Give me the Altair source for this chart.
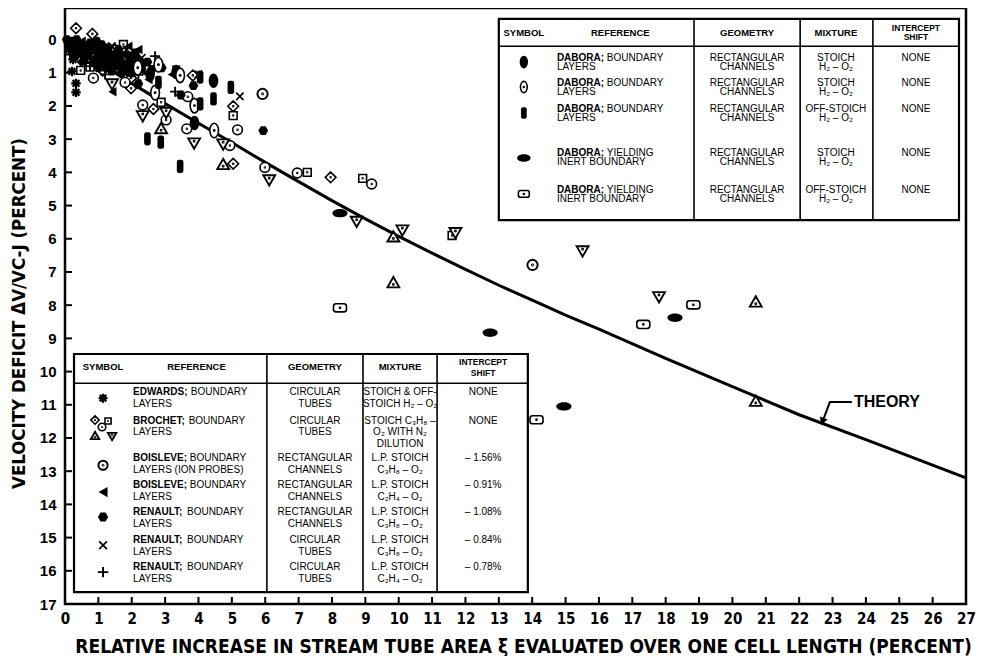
import altair as alt
import pandas as pd

# ---------------- data ----------------
theory_x = [0, 1, 2, 3, 4, 5, 6, 7, 8, 9, 10, 11, 12, 13, 14, 15, 16, 18, 20, 22, 24, 27]
theory_y = [0.0, 0.68, 1.32, 1.93, 2.52, 3.1, 3.7, 4.28, 4.85, 5.4, 5.93, 6.43, 6.92, 7.4,
            7.85, 8.3, 8.72, 9.6, 10.45, 11.3, 12.05, 13.2]

edwards_x = [0.24, 0.21, 0.33, 0.33, 0.12]
edwards_y = [0.60, 0.96, 1.32, 1.59, 0.30]

brochet_diamond_x = [0.33, 0.82, 0.54, 1.13, 1.50, 1.98, 1.98, 2.65, 3.83, 5.04, 5.04, 7.96]
brochet_diamond_y = [-0.34, -0.17, 0.68, 0.93, 0.30, 1.16, 1.47, 2.09, 1.08, 2.01, 3.74, 4.15]

brochet_circle_x = [0.85, 1.80, 2.18, 2.33, 3.03, 3.68, 3.65, 4.94, 5.17, 5.99, 6.96, 9.19, 1.25]
brochet_circle_y = [1.16, 1.29, 0.68, 1.97, 2.42, 1.72, 2.69, 3.19, 2.72, 3.85, 4.02, 4.35, 0.45]

brochet_square_x = [0.47, 0.75, 2.88, 5.04, 7.26, 8.92, 11.60, 1.75]
brochet_square_y = [0.93, 0.83, 1.89, 2.29, 4.00, 4.18, 5.90, 0.15]

brochet_up_x = [2.88, 4.74, 9.84, 9.84, 20.70, 20.70]
brochet_up_y = [2.69, 3.77, 5.95, 7.33, 7.91, 10.90]

brochet_down_x = [1.41, 2.33, 3.03, 3.87, 4.74, 6.12, 8.74, 10.11, 11.70, 15.51, 17.80]
brochet_down_y = [1.33, 2.29, 2.19, 3.11, 3.14, 4.22, 5.47, 5.73, 5.81, 6.36, 7.74]

boisleve_ion_x = [5.92, 14.01]
boisleve_ion_y = [1.64, 6.79]

boisleve_x = [0.30, 0.60, 0.80, 1.00, 1.20, 1.30, 1.50, 1.60, 1.75, 2.00, 2.30, 2.50, 3.20, 1.42,
              0.15, 0.50, 0.90, 1.35, 1.65, 1.90, 2.20]
boisleve_y = [0.35, 0.15, 0.60, 0.20, 0.30, 0.90, 0.35, 1.00, 0.45, 0.65, 0.95, 1.20, 1.05, 1.57,
              0.25, 0.05, 0.40, 0.55, 0.75, 0.20, 0.30]

renault_x = [0.10, 0.25, 0.40, 0.50, 0.65, 0.70, 0.85, 0.95, 1.05, 1.15, 1.25, 1.35, 1.45, 1.55,
             1.65, 1.80, 1.90, 2.05, 2.20, 2.47, 2.60, 3.47, 3.85, 5.94, 0.55, 1.00, 1.70, 2.90,
             0.05, 0.20, 0.35, 0.45, 0.60, 0.75, 0.85, 1.10, 1.20, 1.30, 1.40, 1.60, 1.75, 1.95,
             2.10, 2.30, 0.30, 0.95, 1.50, 2.00]
renault_y = [0.10, 0.20, 0.12, 0.30, 0.20, 0.45, 0.30, 0.55, 0.35, 0.60, 0.45, 0.70, 0.50, 0.80,
             0.60, 0.75, 0.50, 0.85, 1.33, 0.68, 0.90, 1.67, 1.39, 2.74, 0.65, 0.85, 1.00, 0.85,
             0.00, 0.05, 0.00, 0.40, 0.55, 0.10, 0.70, 0.15, 0.80, 0.25, 0.95, 0.30, 0.95, 0.65,
             0.40, 0.75, 0.50, 0.05, 0.65, 1.00]

renault_cross_x = [0.45, 0.90, 1.10, 1.40, 1.85, 2.30, 3.33, 5.24, 4.00]
renault_cross_y = [0.50, 0.10, 0.70, 0.20, 0.30, 0.55, 0.90, 1.71, 1.05]

renault_plus_x = [0.15, 0.75, 1.20, 1.60, 2.20, 3.30, 2.70]
renault_plus_y = [0.45, 0.80, 1.05, 0.40, 1.06, 1.57, 0.50]

dabora_ell_x = [1.60, 2.10, 3.33, 4.45, 3.88, 2.55, 1.20, 1.90]
dabora_ell_y = [0.40, 0.55, 0.98, 1.24, 2.51, 1.05, 0.50, 0.90]

dabora_ell_dot_x = [2.18, 3.45, 2.70, 3.88, 4.47, 2.80]
dabora_ell_dot_y = [0.85, 1.08, 1.60, 1.99, 2.74, 0.76]

dabora_rect_x = [2.80, 4.05, 4.45, 4.97, 2.47, 2.87, 3.45, 4.05]
dabora_rect_y = [1.29, 1.13, 1.79, 1.44, 2.99, 3.09, 3.82, 1.94]

dabora_yield_x = [8.24, 12.74, 18.28, 14.95]
dabora_yield_y = [5.23, 8.83, 8.38, 11.05]

dabora_yield_dot_x = [8.24, 14.13, 17.33, 18.83]
dabora_yield_dot_y = [8.08, 11.45, 8.58, 7.99]

# ---------------- legend tables (text) ----------------
top_names = ["DABORA;", "DABORA;", "DABORA;", "DABORA;", "DABORA;"]
top_ref_rest = ["BOUNDARY", "BOUNDARY", "BOUNDARY", "YIELDING", "YIELDING"]
top_ref_line2 = ["LAYERS", "LAYERS", "LAYERS", "INERT BOUNDARY", "INERT BOUNDARY"]
top_geometry = [["RECTANGULAR", "CHANNELS"]] * 5
top_mixture = [["STOICH", "H₂ – O₂"], ["STOICH", "H₂ – O₂"], ["OFF-STOICH", "H₂ – O₂"],
               ["STOICH", "H₂ – O₂"], ["OFF-STOICH", "H₂ – O₂"]]
top_shift = ["NONE"] * 5

bot_names = ["EDWARDS;", "BROCHET;", "BOISLEVE;", "BOISLEVE;", "RENAULT;", "RENAULT;", "RENAULT;"]
bot_ref_rest = ["BOUNDARY"] * 7
bot_ref_line2 = ["LAYERS", "LAYERS", "LAYERS (ION PROBES)", "LAYERS", "LAYERS", "LAYERS", "LAYERS"]
bot_geometry = [["CIRCULAR", "TUBES"], ["CIRCULAR", "TUBES"], ["RECTANGULAR", "CHANNELS"],
                ["RECTANGULAR", "CHANNELS"], ["RECTANGULAR", "CHANNELS"], ["CIRCULAR", "TUBES"],
                ["CIRCULAR", "TUBES"]]
bot_mixture = [["STOICH & OFF-", "STOICH  H₂ – O₂"], ["STOICH  C₃H₈ –", "O₂ WITH N₂", "DILUTION"],
               ["L.P. STOICH", "C₃H₈ – O₂"], ["L.P. STOICH", "C₂H₄ – O₂"],
               ["L.P. STOICH", "C₃H₈ – O₂"], ["L.P. STOICH", "C₃H₈ – O₂"], ["L.P. STOICH", "C₂H₄ – O₂"]]
bot_shift = ["NONE", "NONE", "– 1.56%", "– 0.91%", "– 1.08%", "– 0.84%", "– 0.78%"]

X_TITLE = "RELATIVE INCREASE IN STREAM TUBE AREA ξ EVALUATED OVER ONE CELL LENGTH (PERCENT)"
Y_TITLE = "VELOCITY DEFICIT ΔV/VC-J (PERCENT)"

# ---------------- layout (data units) ----------------
W, H = 901, 596
XMAX, YMIN, YMAX = 27, -0.95, 17
PXX = W / XMAX
TOP = dict(x0=13.0, x1=26.79, y0=-0.62, y1=5.44, hline=0.20, cols=[18.85, 22.03, 24.21],
           sym=13.75, ref=14.74, geo=20.44, mix=23.10, sh=25.50, hy=-0.21, iy=[-0.35, -0.08],
           rows=[0.56, 1.31, 2.09, 3.42, 4.53], gap=0.28, symy=[0.68, 1.43, 2.21, 3.57, 4.65])
BOT = dict(x0=0.27, x1=13.87, y0=9.47, y1=16.64, hline=10.35, cols=[6.05, 8.93, 11.15],
           sym=1.14, ref=2.04, geo=7.49, mix=10.04, sh=12.53, hy=9.86, iy=[9.71, 10.05],
           rows=[10.62, 11.48, 12.60, 13.42, 14.23, 15.07, 15.89], gap=0.35)

NARROW = "Liberation Sans Narrow, Arial Narrow, DejaVu Sans Condensed, Liberation Sans"
SANS = "Liberation Sans, Arial, Helvetica, sans-serif"

BOLD_W = {'A': 722, 'B': 722, 'C': 722, 'D': 722, 'E': 667, 'H': 722, 'I': 278, 'L': 611,
          'N': 722, 'O': 778, 'R': 722, 'S': 667, 'T': 611, 'U': 722, 'V': 667, 'W': 944,
          ';': 333, ' ': 278}


def name_w(s, fs=10):
    return sum(BOLD_W.get(c, 700) for c in s + " ") / 1000 * fs / PXX


# ---------------- symbol paths ----------------
def ell(rx, ry, cx=0.0, cy=0.0):
    k = 0.5523
    f = lambda v: f"{v:.3f}"
    return (f"M{f(cx)},{f(cy-ry)} C{f(cx+k*rx)},{f(cy-ry)} {f(cx+rx)},{f(cy-k*ry)} {f(cx+rx)},{f(cy)} "
            f"C{f(cx+rx)},{f(cy+k*ry)} {f(cx+k*rx)},{f(cy+ry)} {f(cx)},{f(cy+ry)} "
            f"C{f(cx-k*rx)},{f(cy+ry)} {f(cx-rx)},{f(cy+k*ry)} {f(cx-rx)},{f(cy)} "
            f"C{f(cx-rx)},{f(cy-k*ry)} {f(cx-k*rx)},{f(cy-ry)} {f(cx)},{f(cy-ry)} Z")


def rrect(w, h, r):
    return (f"M{-w+r},{-h} L{w-r},{-h} Q{w},{-h} {w},{-h+r} L{w},{h-r} Q{w},{h} {w-r},{h} "
            f"L{-w+r},{h} Q{-w},{h} {-w},{h-r} L{-w},{-h+r} Q{-w},{-h} {-w+r},{-h} Z")


def dot(cy=0.0):
    return " " + ell(0.09, 0.09, 0.0, cy)


STYLES = {
    "edwards": dict(shape="M-1,0L1,0M0,-1L0,1M-0.72,-0.72L0.72,0.72M-0.72,0.72L0.72,-0.72",
                    kind="line", sw=2.2, size=90),
    "brochet_diamond": dict(shape="M0,-1L1,0L0,1L-1,0Z" + dot(), kind="open", sw=1.6, size=115),
    "brochet_circle": dict(shape=ell(1, 1) + dot(), kind="open", sw=1.6, size=95),
    "brochet_square": dict(shape="M-0.8,-0.8L0.8,-0.8L0.8,0.8L-0.8,0.8Z" + dot(), kind="open", sw=1.6, size=95),
    "brochet_up": dict(shape="M0,-1L1,0.75L-1,0.75Z" + dot(0.25), kind="open", sw=1.9, size=140),
    "brochet_down": dict(shape="M0,1L1,-0.75L-1,-0.75Z" + dot(-0.25), kind="open", sw=1.9, size=140),
    "boisleve_ion": dict(shape=ell(1, 1) + dot(), kind="open", sw=2.0, size=105),
    "boisleve": dict(shape="triangle-left", kind="fill", sw=0, size=90),
    "renault": dict(shape="M-0.5,-0.9L0.5,-0.9L1,0L0.5,0.9L-0.5,0.9L-1,0Z", kind="fill", sw=0, size=95),
    "renault_cross": dict(shape="M-1,-1L1,1M-1,1L1,-1", kind="line", sw=1.7, size=55),
    "renault_plus": dict(shape="M-1,0L1,0M0,-1L0,1", kind="line", sw=1.9, size=100),
    "dabora_ell": dict(shape=ell(0.66, 1), kind="fill", sw=0, size=210),
    "dabora_ell_dot": dict(shape=ell(0.6, 1) + dot(), kind="open", sw=1.6, size=210),
    "dabora_rect": dict(shape=rrect(0.5, 1, 0.35), kind="fill", sw=0, size=175),
    "dabora_yield": dict(shape=ell(1, 0.55), kind="fill", sw=0, size=230),
    "dabora_yield_dot": dict(shape=rrect(1, 0.62, 0.4) + dot(), kind="open", sw=1.6, size=170),
}

POINTS = {
    "edwards": (edwards_x, edwards_y),
    "brochet_diamond": (brochet_diamond_x, brochet_diamond_y),
    "brochet_circle": (brochet_circle_x, brochet_circle_y),
    "brochet_square": (brochet_square_x, brochet_square_y),
    "brochet_up": (brochet_up_x, brochet_up_y),
    "brochet_down": (brochet_down_x, brochet_down_y),
    "boisleve_ion": (boisleve_ion_x, boisleve_ion_y),
    "boisleve": (boisleve_x, boisleve_y),
    "renault": (renault_x, renault_y),
    "renault_cross": (renault_cross_x, renault_cross_y),
    "renault_plus": (renault_plus_x, renault_plus_y),
    "dabora_ell": (dabora_ell_x, dabora_ell_y),
    "dabora_ell_dot": (dabora_ell_dot_x, dabora_ell_dot_y),
    "dabora_rect": (dabora_rect_x, dabora_rect_y),
    "dabora_yield": (dabora_yield_x, dabora_yield_y),
    "dabora_yield_dot": (dabora_yield_dot_x, dabora_yield_dot_y),
}

# legend symbol positions (data units) and their size factor
LEGEND_SYM = {
    "dabora_ell": [(TOP["sym"], TOP["symy"][0], 0.75)],
    "dabora_ell_dot": [(TOP["sym"], TOP["symy"][1], 0.6)],
    "dabora_rect": [(TOP["sym"], TOP["symy"][2], 0.75)],
    "dabora_yield": [(TOP["sym"], TOP["symy"][3], 0.8)],
    "dabora_yield_dot": [(TOP["sym"], TOP["symy"][4], 0.7)],
    "edwards": [(BOT["sym"], 10.80, 0.9)],
    "brochet_diamond": [(0.90, 11.46, 0.6)],
    "brochet_circle": [(1.11, 11.67, 0.6)],
    "brochet_square": [(1.29, 11.49, 0.6)],
    "brochet_up": [(0.90, 11.94, 0.5)],
    "brochet_down": [(1.41, 11.94, 0.5)],
    "boisleve_ion": [(BOT["sym"], 12.82, 0.8)],
    "boisleve": [(BOT["sym"], 13.63, 1.2)],
    "renault": [(BOT["sym"], 14.38, 1.1)],
    "renault_cross": [(BOT["sym"], 15.23, 1.1)],
    "renault_plus": [(BOT["sym"], 16.04, 1.1)],
}

# ---------------- encodings ----------------
xscale = alt.Scale(domain=[0, XMAX], nice=False, zero=False)
yscale = alt.Scale(domain=[YMIN, YMAX], reverse=True, nice=False, zero=False)
xaxis = alt.Axis(values=list(range(0, 28)), title=X_TITLE, labelFont=NARROW, labelFontSize=15,
                 labelPadding=7, labelFlush=False, labelOverlap=False, titleFont=NARROW,
                 titleFontSize=19, titleX=458, titleY=42, titleBaseline="middle")
yaxis = alt.Axis(values=list(range(0, 18)), title=Y_TITLE, labelFont=SANS, labelFontSize=15,
                 labelPadding=9, labelFlush=False, labelOverlap=False, titleFont=NARROW,
                 titleFontSize=18.5, titleX=-47, titleY=305, titleAngle=270, titleBaseline="middle")
X = alt.X("x:Q", scale=xscale, axis=xaxis)
Y = alt.Y("y:Q", scale=yscale, axis=yaxis)

layers = []

# theory curve
theory_df = pd.DataFrame({"x": theory_x, "y": theory_y, "i": range(len(theory_x))})
layers.append(alt.Chart(theory_df).mark_line(color="black", strokeWidth=3).encode(x=X, y=Y, order="i:Q"))

# inward ticks
ytick_df = pd.DataFrame({"y": list(range(1, 17))})
xtick_df = pd.DataFrame({"x": list(range(1, 27))})
layers.append(alt.Chart(ytick_df).mark_rule(color="black", strokeWidth=2).encode(
    y=Y, x=alt.value(0), x2=alt.value(7)))
layers.append(alt.Chart(xtick_df).mark_rule(color="black", strokeWidth=2).encode(
    x=X, y=alt.value(H), y2=alt.value(H - 7)))


def mark_kw(st):
    if st["kind"] == "fill":
        return dict(shape=st["shape"], filled=True, color="black", opacity=1)
    if st["kind"] == "open":
        return dict(shape=st["shape"], filled=True, fill="white", stroke="black",
                    strokeWidth=st["sw"], opacity=1)
    return dict(shape=st["shape"], filled=False, color="black", strokeWidth=st["sw"], opacity=1)


# data points
for key, (xs, ys) in POINTS.items():
    st = STYLES[key]
    df = pd.DataFrame({"x": xs, "y": ys, "s": [st["size"]] * len(xs)})
    layers.append(alt.Chart(df).mark_point(**mark_kw(st))
                  .encode(x=X, y=Y, size=alt.Size("s:Q", scale=None)))

# tables: boxes and lines
box_rows, line_rows = [], []
for T in (TOP, BOT):
    box_rows.append({"x": T["x0"], "x2": T["x1"], "y": T["y0"], "y2": T["y1"]})
    line_rows.append({"x": T["x0"], "x2": T["x1"], "y": T["hline"], "y2": T["hline"]})
    for c in T["cols"]:
        line_rows.append({"x": c, "x2": c, "y": T["y0"], "y2": T["y1"]})
layers.append(alt.Chart(pd.DataFrame(box_rows)).mark_rect(fill="white", stroke="black", strokeWidth=2.2)
              .encode(x=X, x2="x2:Q", y=Y, y2="y2:Q"))
layers.append(alt.Chart(pd.DataFrame(line_rows)).mark_rule(color="black", strokeWidth=1.6)
              .encode(x=X, x2="x2:Q", y=Y, y2="y2:Q"))

# table texts
hdr, hdr_small, names, body_l, body_c = [], [], [], [], []
for T in (TOP, BOT):
    for t, cx in zip(["SYMBOL", "REFERENCE", "GEOMETRY", "MIXTURE"],
                     [T["sym"], T["ref"] + 1.9, T["geo"], T["mix"]]):
        hdr.append({"x": cx, "y": T["hy"], "t": t})
    hdr_small.append({"x": T["sh"], "y": T["iy"][0], "t": "INTERCEPT"})
    hdr_small.append({"x": T["sh"], "y": T["iy"][1], "t": "SHIFT"})


def add_rows(T, nm, rest, l2, geo, mix, sh):
    for i, y0 in enumerate(T["rows"]):
        g = T["gap"]
        names.append({"x": T["ref"], "y": y0, "t": nm[i]})
        body_l.append({"x": T["ref"] + name_w(nm[i]), "y": y0, "t": rest[i]})
        body_l.append({"x": T["ref"], "y": y0 + g, "t": l2[i]})
        for j, s in enumerate(geo[i]):
            body_c.append({"x": T["geo"], "y": y0 + j * g, "t": s})
        for j, s in enumerate(mix[i]):
            body_c.append({"x": T["mix"], "y": y0 + j * g, "t": s})
        body_c.append({"x": T["sh"], "y": y0, "t": sh[i]})


add_rows(TOP, top_names, top_ref_rest, top_ref_line2, top_geometry, top_mixture, top_shift)
add_rows(BOT, bot_names, bot_ref_rest, bot_ref_line2, bot_geometry, bot_mixture, bot_shift)

for rows, align, fs, fw in [(hdr, "center", 9.5, "bold"), (hdr_small, "center", 8.5, "bold"),
                            (names, "left", 10, "bold"), (body_l, "left", 10, "normal"),
                            (body_c, "center", 10, "normal")]:
    layers.append(alt.Chart(pd.DataFrame(rows)).mark_text(
        align=align, baseline="middle", font=SANS, fontSize=fs, fontWeight=fw, color="black")
        .encode(x=X, y=Y, text="t:N"))

# legend symbols (drawn above the table boxes)
for key, lst in LEGEND_SYM.items():
    st = STYLES[key]
    df = pd.DataFrame({"x": [p[0] for p in lst], "y": [p[1] for p in lst],
                       "s": [st["size"] * p[2] for p in lst]})
    layers.append(alt.Chart(df).mark_point(**mark_kw(st)).encode(x=X, y=Y, size=alt.Size("s:Q", scale=None)))

# THEORY label with arrow
arrow_df = pd.DataFrame({"x": [23.58, 22.92, 22.74], "y": [10.92, 10.92, 11.40], "i": [0, 1, 2]})
layers.append(alt.Chart(arrow_df).mark_line(color="black", strokeWidth=2).encode(x=X, y=Y, order="i:Q"))
head_df = pd.DataFrame({"x": [22.70], "y": [11.50]})
layers.append(alt.Chart(head_df).mark_point(shape="triangle-down", filled=True, color="black",
                                            size=70, angle=20, opacity=1).encode(x=X, y=Y))
label_df = pd.DataFrame({"x": [23.64], "y": [10.92], "t": ["THEORY"]})
layers.append(alt.Chart(label_df).mark_text(align="left", baseline="middle", font=SANS, fontSize=16,
                                            fontWeight="bold", color="black").encode(x=X, y=Y, text="t:N"))

chart = alt.layer(*layers).properties(
    width=W, height=H,
    autosize=alt.AutoSizeParams(type="none"),
    padding={"left": 57, "top": 0, "right": 13, "bottom": 52},
    background="white",
).configure_view(stroke="black", strokeWidth=2.5).configure_axis(
    grid=False, domain=False, ticks=False, labelColor="black", labelFontWeight="bold",
    titleColor="black", titleFontWeight="bold"
)

chart.save("out.html", embed_options={"renderer": "svg", "actions": False})
